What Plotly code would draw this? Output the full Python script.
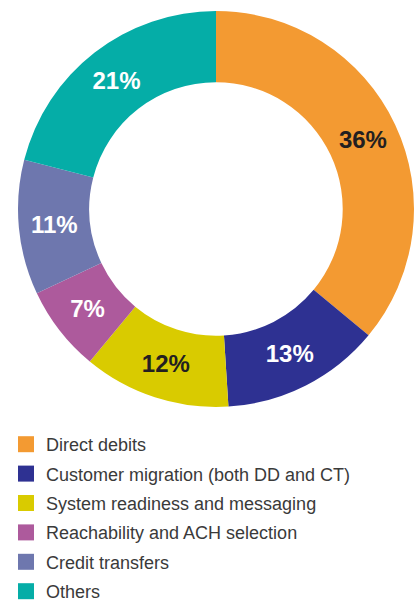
import plotly.graph_objects as go

# Share of responses by topic
labels = [
    "Direct debits",
    "Customer migration (both DD and CT)",
    "System readiness and messaging",
    "Reachability and ACH selection",
    "Credit transfers",
    "Others",
]
values = [36, 13, 12, 7, 11, 21]
colors = ["#F39A32", "#2E3192", "#D9CB00", "#AD5A9C", "#6E77AE", "#05ADA7"]
label_colors = ["#231F20", "#FFFFFF", "#231F20", "#FFFFFF", "#FFFFFF", "#FFFFFF"]

fig = go.Figure()

fig.add_trace(go.Pie(
    labels=labels,
    values=values,
    sort=False,
    direction="clockwise",
    rotation=0,
    hole=0.64,
    marker=dict(colors=colors, line=dict(width=0)),
    texttemplate="%{value}%",
    textposition="inside",
    insidetextorientation="horizontal",
    textfont=dict(family="Liberation Sans, Arial, sans-serif", size=24,
                  color=label_colors, weight="bold"),
    domain=dict(x=[18 / 418, 414 / 418], y=[1 - 407 / 603, 1 - 11 / 603]),
    showlegend=False,
    hoverinfo="label+percent",
))

# Legend entries: one square marker per category, each in its own group
for i, (lab, col) in enumerate(zip(labels, colors)):
    fig.add_trace(go.Scatter(
        x=[None], y=[None],
        mode="markers",
        name=lab,
        legendgroup=f"g{i}",
        marker=dict(symbol="square", size=16, color=col),
        showlegend=True,
        hoverinfo="skip",
    ))

fig.update_layout(
    width=418,
    height=603,
    margin=dict(l=0, r=0, t=0, b=0, autoexpand=False),
    paper_bgcolor="white",
    plot_bgcolor="white",
    xaxis=dict(visible=False),
    yaxis=dict(visible=False),
    legend=dict(
        x=6 / 418,
        xanchor="left",
        y=1 - 426 / 603,
        yanchor="top",
        orientation="v",
        tracegroupgap=3,
        itemsizing="trace",
        font=dict(family="Liberation Sans, Arial, sans-serif", size=18, color="#3A3A3A"),
        bgcolor="rgba(0,0,0,0)",
    ),
)

fig.write_html("out.html")
